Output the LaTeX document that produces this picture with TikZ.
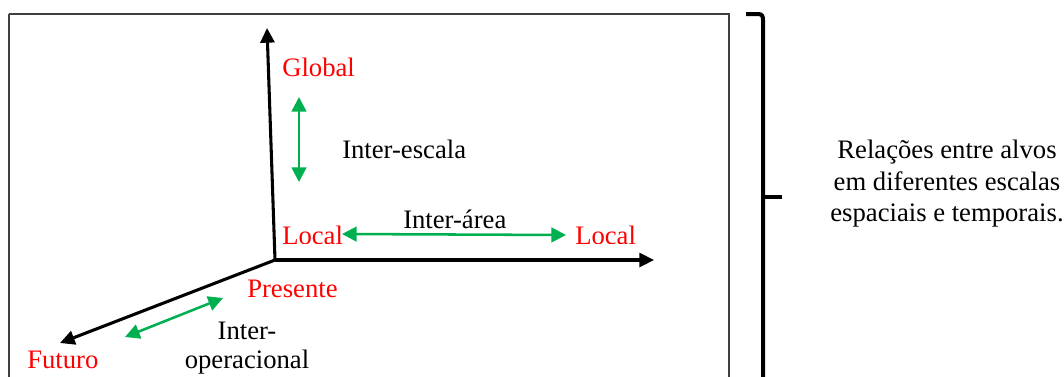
\documentclass[tikz,border=0pt]{standalone}
\usepackage{fontspec}
\setmainfont{Liberation Serif}
\usetikzlibrary{arrows.meta}
\definecolor{offgreen}{HTML}{00B050}
\definecolor{boxgray}{HTML}{404040}
\tikzset{
  axis/.style={line width=2.3pt, -{Triangle[length=11pt,width=10.5pt]}},
  rel/.style={line width=1.9pt, draw=offgreen, {Triangle[length=11pt,width=11pt]}-{Triangle[length=11pt,width=11pt]}},
  lbl/.style={inner sep=0pt, anchor=base west, font=\fontsize{20}{23}\selectfont},
  red lbl/.style={lbl, text=red},
  brace/.style={line width=3pt, line cap=butt}
}
\begin{document}
\begin{tikzpicture}[x=0.75pt,y=-0.75pt]
\useasboundingbox (0,0) rectangle (1064,376);
\clip (0,0) rectangle (1064,376);
% frame
\draw[boxgray, line width=0.8pt] (9,14) -- (9,400) (9,14) -- (729,14) -- (729,400);
% axes
\coordinate (O) at (275,260);
\coordinate (Ytip) at (267,28);
\coordinate (Xtip) at (654,260);
\coordinate (Ztip) at (60,343);
\draw[axis] (O) -- (Ytip);
\draw[axis] (O) -- (Xtip);
\draw[axis] (O) -- (Ztip);
% green relation arrows
\coordinate (g1a) at (299,97);
\coordinate (g1b) at (299,182);
\coordinate (g2a) at (342,234);
\coordinate (g2b) at (566,235);
\coordinate (g3a) at (125,337);
\coordinate (g3b) at (223,298);
\draw[rel] (g1a) -- (g1b);
\draw[rel] (g2a) -- (g2b);
\draw[rel] (g3a) -- (g3b);
% labels
\node[red lbl] (global) at (282,76) {Global};
\node[lbl] (interescala) at (342,158) {Inter-escala};
\begin{scope}
\clip (0,0) rectangle (760,243);
\node[red lbl] (local1) at (282,244) {Local};
\node[red lbl] (local2) at (575,244) {Local};
\end{scope}
\node[lbl] (interarea) at (403,228) {Inter-área};
\node[red lbl] (presente) at (247,297) {Presente};
\node[red lbl] (futuro) at (27,368) {Futuro};
\node[lbl, anchor=base] (interop1) at (247,339) {Inter-};
\node[lbl, anchor=base] (interop2) at (247,368) {operacional};
% brace
\coordinate (bt) at (746,14);
\coordinate (bm) at (782,197);
\draw[brace] (bt) -- (758,14) .. controls (762,14) and (763,16) .. (763,20) -- (763,400);
\draw[brace] (763,197) -- (bm);
\node[lbl, anchor=base, align=center] (rel1) at (947,158) {Relações entre alvos};
\node[lbl, anchor=base] (rel2) at (947,190) {em diferentes escalas};
\node[lbl, anchor=base] (rel3) at (947,221) {espaciais e temporais.};
\end{tikzpicture}
\end{document}
